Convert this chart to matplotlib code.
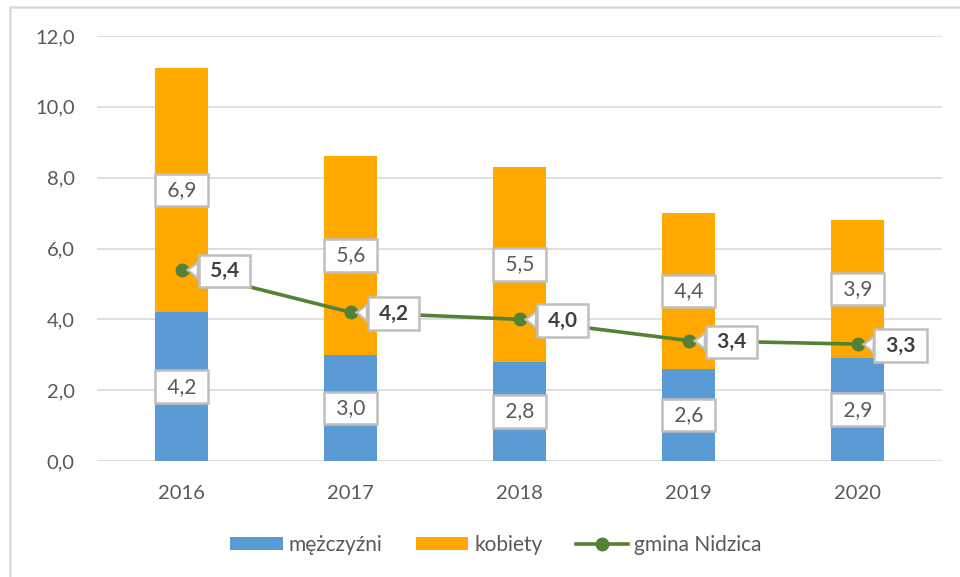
import matplotlib
matplotlib.use("Agg")
import matplotlib.pyplot as plt
from matplotlib.patches import Rectangle
import numpy as np

years = ["2016", "2017", "2018", "2019", "2020"]
men = [4.2, 3.0, 2.8, 2.6, 2.9]
women = [6.9, 5.6, 5.5, 4.4, 3.9]
gmina = [5.4, 4.2, 4.0, 3.4, 3.3]
yticks = [0, 2, 4, 6, 8, 10, 12]

BLUE = "#5B9BD5"
ORANGE = "#FFA800"
GREEN = "#548235"
TXT = "#595959"
GRID = "#D9D9D9"

plt.rcParams["font.family"] = ["Lato", "DejaVu Sans"]

def pl(v, d=1):
    return f"{v:.{d}f}".replace(".", ",")

fig = plt.figure(figsize=(9.6, 5.77), dpi=100)
fig.patches.append(Rectangle((10 / 960, -0.1), 1.2, 1 - 7 / 577 + 0.1,
                             transform=fig.transFigure, fill=False,
                             ec="#D9D9D9", lw=1.8, zorder=0))

ax = fig.add_axes([97 / 960, 1 - 461 / 577, 845 / 960, 425 / 577])
x = np.arange(len(years))
w = 0.31
b1 = ax.bar(x, men, w, color=BLUE, label="mężczyźni", zorder=2)
b2 = ax.bar(x, women, w, bottom=men, color=ORANGE, label="kobiety", zorder=2)
ln, = ax.plot(x, gmina, color=GREEN, lw=2.6, marker="o", ms=9,
              label="gmina Nidzica", zorder=4)

box = dict(boxstyle="square,pad=0.3", fc="white", ec="#BFBFBF", lw=1.8)
for i in range(len(x)):
    ax.text(x[i], men[i] / 2, f" {pl(men[i])} ", ha="center", va="center",
            fontsize=15, color=TXT, bbox=box, zorder=5)
    ax.text(x[i], men[i] + women[i] / 2, f" {pl(women[i])} ", ha="center",
            va="center", fontsize=15, color=TXT, bbox=box, zorder=5)
    ax.annotate(f" {pl(gmina[i])} ", (x[i], gmina[i]), xytext=(31, -1),
                textcoords="offset points", ha="center", va="center",
                fontsize=15, fontweight="bold", color="#404040",
                bbox=box, zorder=6,
                arrowprops=dict(arrowstyle="wedge,tail_width=0.8,shrink_factor=0.4",
                                fc="white", ec="#BFBFBF", lw=1.5,
                                shrinkA=0, shrinkB=4))

ax.set_xlim(-0.5, 4.5)
ax.set_ylim(0, 12)
ax.set_yticks(yticks)
ax.set_yticklabels([pl(v) for v in yticks])
ax.set_xticks(x)
ax.set_xticklabels(years)
ax.tick_params(axis="both", length=0, labelsize=14.5, colors=TXT)
ax.tick_params(axis="y", pad=16)
ax.tick_params(axis="x", pad=17)
ax.grid(axis="y", color=GRID, lw=1.2, zorder=0)
ax.set_axisbelow(True)
for s in ax.spines.values():
    s.set_visible(False)

leg = fig.legend([b1, b2, ln], ["mężczyźni", "kobiety", "gmina Nidzica"],
                 loc="center", bbox_to_anchor=(496 / 960, 1 - 545 / 577), ncol=3,
                 frameon=False, fontsize=15, handlelength=2.5, handleheight=0.55,
                 columnspacing=1.6, handletextpad=0.3)
for t in leg.get_texts():
    t.set_color(TXT)

fig.savefig("out.png", dpi=100)
